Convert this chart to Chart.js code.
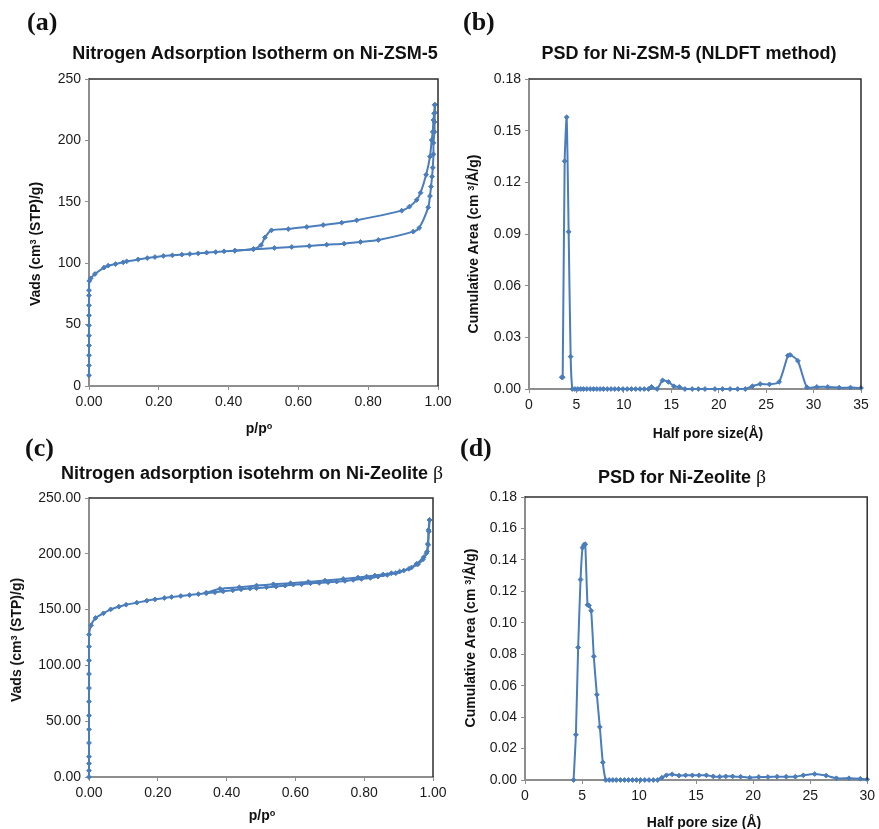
<!DOCTYPE html>
<html>
<head>
<meta charset="utf-8">
<script src="https://cdn.jsdelivr.net/npm/chart.js@4.4.1/dist/chart.umd.min.js"></script>
<style>
  html, body { margin:0; padding:0; background:#fff; }
  #wrap { position:relative; width:879px; height:829px; background:#fff; overflow:hidden; }
  canvas { position:absolute; }
  .t { position:absolute; white-space:nowrap; line-height:1; color:#111; transform:translate(-50%,-50%); }
  .title { font-family:"Liberation Sans", Arial, sans-serif; font-weight:bold; font-size:18px; }
  .ax { font-family:"Liberation Sans", Arial, sans-serif; font-weight:bold; font-size:14px; }
  .rot { transform:translate(-50%,-50%) rotate(-90deg); }
  .pl { position:absolute; font-family:"Liberation Serif", "Times New Roman", serif; font-weight:bold; font-size:26px; line-height:1; color:#111; }
  .beta { font-family:"Liberation Serif", "Times New Roman", serif; font-weight:normal; font-size:1.1em; }
  sup { font-size:0.65em; vertical-align:0.45em; line-height:0; }
</style>
</head>
<body>
<div id="wrap">
  <canvas id="ca" width="460" height="420" style="left:0;top:0"></canvas>
  <canvas id="cb" width="439" height="420" style="left:440px;top:0"></canvas>
  <canvas id="cc" width="460" height="409" style="left:0;top:420px"></canvas>
  <canvas id="cd" width="439" height="409" style="left:440px;top:420px"></canvas>

  <div class="pl" style="left:27px;top:9px">(a)</div>
  <div class="pl" style="left:463px;top:9px">(b)</div>
  <div class="pl" style="left:25px;top:435px">(c)</div>
  <div class="pl" style="left:460px;top:435px">(d)</div>

  <div class="t title" style="left:255px;top:53px">Nitrogen Adsorption Isotherm on Ni-ZSM-5</div>
  <div class="t title" style="left:689px;top:53px">PSD for Ni-ZSM-5 (NLDFT method)</div>
  <div class="t title" style="left:252px;top:473px">Nitrogen adsorption isotehrm on Ni-Zeolite <span class="beta">β</span></div>
  <div class="t title" style="left:682px;top:477px">PSD for Ni-Zeolite <span class="beta">β</span></div>

  <div class="t ax rot" style="left:35px;top:244px">Vads (cm<sup>3</sup> (STP)/g)</div>
  <div class="t ax rot" style="left:473px;top:244px">Cumulative Area (cm <sup>3</sup>/Å/g)</div>
  <div class="t ax rot" style="left:16px;top:640px">Vads (cm<sup>3</sup> (STP)/g)</div>
  <div class="t ax rot" style="left:470px;top:638px">Cumulative Area (cm <sup>3</sup>/Å/g)</div>

  <div class="t ax" style="left:259px;top:428px">p/p<sup>o</sup></div>
  <div class="t ax" style="left:708px;top:433px">Half pore size(Å)</div>
  <div class="t ax" style="left:262px;top:815px">p/p<sup>o</sup></div>
  <div class="t ax" style="left:704px;top:822px">Half pore size (Å)</div>
</div>
<script>
// ---------- DATA ----------
// (a) Nitrogen adsorption isotherm on Ni-ZSM-5
const aAdsP = [0,0,0,0,0,0,0,0,0,0,0.001,0.005,0.017,0.043,0.055,0.076,0.098,0.108,0.141,0.167,0.189,0.213,0.239,0.266,0.289,0.313,0.337,0.363,0.387,0.418,0.471,0.531,0.581,0.631,0.681,0.731,0.778,0.829,0.929,0.946,0.972,0.977,0.980,0.983,0.985,0.987,0.987,0.990,0.990,0.991,0.991];
const aAdsV = [8.7,16.8,25,33,41,49.4,57.5,65.7,73.8,78,85.6,87.7,91.2,96.4,98,99.3,100.7,101.5,103.1,104.2,105,105.9,106.4,107,107.5,108,108.6,109.1,109.7,110.2,111.3,112.4,113.2,114,115.1,115.9,117.3,118.9,125.7,128.7,145.5,154.7,162.3,170.5,177.8,188.7,198,207,215,222.6,229];
const aDesP = [0.991,0.989,0.987,0.985,0.982,0.977,0.966,0.950,0.939,0.918,0.896,0.767,0.724,0.671,0.624,0.571,0.523,0.504,0.493,0.471,0.418];
const aDesV = [229,222,216.6,207,200.3,186.8,172,157.4,151.5,146,142.8,134.9,133,131.1,129.5,127.8,126.8,121,114.8,111.6,110.2];
const aXTicks = [0,0.2,0.4,0.6,0.8,1.0];
const aYTicks = [0,50,100,150,200,250];

// (b) PSD for Ni-ZSM-5 (NLDFT)
const bSize = [3.45,3.55,3.76,3.97,4.18,4.39,4.57,
  4.85,5.15,5.45,5.75,6.1,6.45,6.8,7.15,7.5,7.85,8.25,8.65,9.05,9.45,9.9,10.35,10.8,11.25,11.7,12.15,12.6,
  12.92,13.5,14.08,14.7,15.28,15.85,16.44,
  17.2,17.85,18.55,19.6,20.4,21.2,22.0,22.8,
  23.55,24.37,25.35,26.37,27.29,27.53,28.35,29.3,30.35,31.5,32.7,33.9,35.0];
const bArea = [0.0068,0.0068,0.1323,0.1578,0.0913,0.0188,0,
  0,0,0,0,0,0,0,0,0,0,0,0,0,0,0,0,0,0,0,0,0,
  0.0012,0,0.005,0.0041,0.0016,0.0012,0,
  0,0,0,0,0,0,0,0,
  0.0016,0.0029,0.0027,0.0041,0.0194,0.0198,0.0163,0.001,0.0012,0.0012,0.0008,0.0008,0.0006];
const bXTicks = [0,5,10,15,20,25,30,35];
const bYTicks = [0,0.03,0.06,0.09,0.12,0.15,0.18];

// (c) Nitrogen adsorption isotherm on Ni-Zeolite beta
const cAdsP = [0,0,0,0,0,0,0,0,0,0,0,0,0,0.006,0.019,0.042,0.063,0.087,0.108,0.139,0.168,0.192,0.219,0.24,0.267,0.292,0.318,0.342,0.366,0.39,0.418,0.442,0.468,0.487,0.516,0.544,0.57,0.594,0.618,0.644,0.669,0.695,0.72,0.744,0.768,0.792,0.818,0.84,0.867,0.892,0.915,0.937,0.956,0.971,0.981,0.986,0.987,0.99];
const cAdsV = [0,5.7,12,18.2,30.5,42.7,55,67.5,79.7,92.3,104.5,116.8,127.5,135.9,142.5,146.7,150.2,152.6,154.4,156.2,158,159.2,160.4,161.3,162.2,163,163.9,164.8,165.5,166.4,167.3,168.2,169,169.2,170,170.6,171.5,172.4,172.7,173.6,173.9,174.5,175.1,175.7,176.6,177.5,178.4,179.6,181.1,182.6,185,187.6,190.6,195.1,200.5,208,221.4,230.3];
const cDesP = [0.99,0.988,0.985,0.983,0.973,0.952,0.93,0.903,0.879,0.855,0.831,0.807,0.782,0.739,0.686,0.637,0.586,0.536,0.487,0.437,0.381,0.34];
const cDesV = [230.3,220,208.8,202,197,191,186.5,184.1,182.6,181.4,180.5,179.6,178.7,177.5,176,174.8,173.6,172.7,171.5,170,168.6,164.9];
const cXTicks = [0,0.2,0.4,0.6,0.8,1.0];
const cYTicks = [0,50,100,150,200,250];

// (d) PSD for Ni-Zeolite beta
const dSize = [4.26,4.46,4.66,4.87,5.04,5.16,5.28,5.48,5.6,5.8,6.03,6.3,6.56,6.82,7.08,
  7.38,7.7,8.0,8.37,8.72,9.07,9.42,9.77,10.12,10.5,10.87,11.25,11.63,
  12.0,12.4,12.9,13.5,14.08,14.67,15.25,15.9,16.5,17.06,17.6,18.2,18.9,19.7,20.5,21.3,22.1,22.9,23.7,24.4,25.4,26.4,27.3,28.4,29.4,30.0];
const dArea = [0,0.0288,0.0843,0.1275,0.1478,0.1495,0.15,0.1114,0.111,0.1076,0.0786,0.0542,0.0337,0.0112,0,
  0,0,0,0,0,0,0,0,0,0,0,0,0,
  0.0015,0.003,0.0036,0.0028,0.003,0.003,0.003,0.003,0.0023,0.0021,0.0023,0.0023,0.0021,0.0015,0.0019,0.0019,0.0021,0.0021,0.0021,0.003,0.0038,0.0028,0.0011,0.0011,0.0008,0.0004];
const dXTicks = [0,5,10,15,20,25,30];
const dYTicks = [0,0.02,0.04,0.06,0.08,0.10,0.12,0.14,0.16,0.18];

// ---------- CHARTS ----------
const FONT = '"Liberation Sans", Arial, sans-serif';
const LINE = '#4a7dbb';
const AXIS = '#8e8e8e';

const frame = {
  id: 'frame',
  afterDraw(chart) {
    const a = chart.chartArea, ctx = chart.ctx;
    ctx.save();
    ctx.strokeStyle = '#2e2e2e';
    ctx.lineWidth = 1.5;
    ctx.beginPath();
    ctx.moveTo(a.left, a.top);
    ctx.lineTo(a.right, a.top);
    ctx.lineTo(a.right, a.bottom);
    ctx.stroke();
    ctx.restore();
  }
};

function pts(xs, ys) { return xs.map((x, i) => ({ x: x, y: ys[i] })); }

function ds(data, tension) {
  return {
    data: data, showLine: true, borderColor: LINE, backgroundColor: LINE,
    borderWidth: 2, pointRadius: 2.4, pointStyle: 'rectRot', pointBorderWidth: 1,
    pointBorderColor: LINE, pointBackgroundColor: LINE, tension: tension, clip: 6
  };
}

function scale(ticks, dec, fitFn) {
  return {
    type: 'linear',
    min: ticks[0], max: ticks[ticks.length - 1],
    afterBuildTicks: s => { s.ticks = ticks.map(v => ({ value: v })); },
    afterFit: fitFn,
    ticks: {
      callback: v => Number(v).toFixed(dec),
      font: { family: FONT, size: 14 }, color: '#1a1a1a', padding: 4,
      autoSkip: false, maxRotation: 0, minRotation: 0
    },
    grid: { display: true, drawOnChartArea: false, drawTicks: true, tickLength: 4, color: AXIS, lineWidth: 1 },
    border: { display: true, color: AXIS, width: 2 }
  };
}

function make(id, datasets, c) {
  return new Chart(document.getElementById(id), {
    type: 'scatter',
    data: { datasets: datasets },
    plugins: [frame],
    options: {
      responsive: false, animation: false, maintainAspectRatio: false,
      layout: { padding: { left: 0, right: c.padR, top: c.padT, bottom: 0 } },
      plugins: { legend: { display: false }, tooltip: { enabled: false }, title: { display: false } },
      scales: {
        x: Object.assign(scale(c.xt, c.xd, s => { s.height = c.xH; }), { position: 'bottom' }),
        y: Object.assign(scale(c.yt, c.yd, s => { s.width = c.yW; }), { position: 'left' })
      }
    }
  });
}

make('ca', [ds(pts(aAdsP, aAdsV), 0.25), ds(pts(aDesP, aDesV), 0.25)],
  { xt: aXTicks, xd: 2, yt: aYTicks, yd: 0, padR: 22, padT: 79, xH: 34, yW: 89 });
make('cb', [ds(pts(bSize, bArea), 0.2)],
  { xt: bXTicks, xd: 0, yt: bYTicks, yd: 2, padR: 18, padT: 79, xH: 31, yW: 89 });
make('cc', [ds(pts(cAdsP, cAdsV), 0.25), ds(pts(cDesP, cDesV), 0.25)],
  { xt: cXTicks, xd: 2, yt: cYTicks, yd: 2, padR: 27, padT: 78, xH: 52, yW: 89 });
make('cd', [ds(pts(dSize, dArea), 0.2)],
  { xt: dXTicks, xd: 0, yt: dYTicks, yd: 2, padR: 11, padT: 77, xH: 49, yW: 85 });
</script>
</body>
</html>
